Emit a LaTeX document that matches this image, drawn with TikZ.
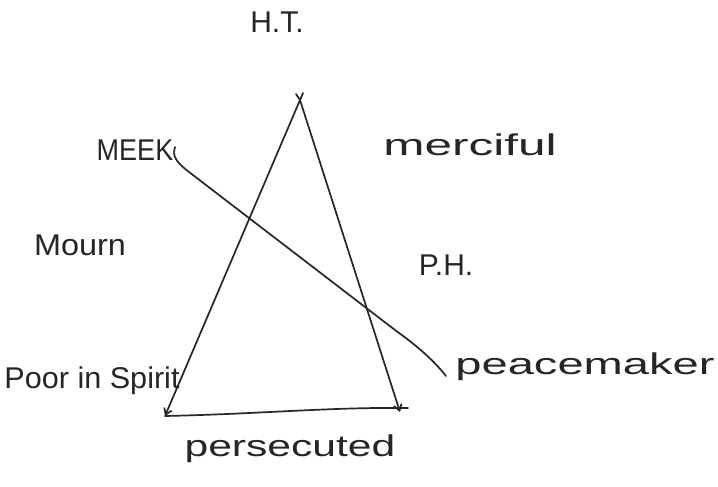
\documentclass[tikz,border=0pt]{standalone}
\usepackage{fontspec}
\setmainfont{Liberation Sans}
\usetikzlibrary{arrows.meta}
\tikzset{
  lbl/.style={inner sep=0pt, font=\fontsize{30}{32}\selectfont, text=black!85, transform shape},
  pen/.style={line width=1.7pt, black!85, line cap=round, line join=round},
  tip/.style={-{Straight Barb[length=6pt,width=8pt]}}
}
\begin{document}
\begin{tikzpicture}[x=1pt,y=-1pt]
\useasboundingbox[fill=white] (0,0) rectangle (718,487);
% labels
\node[lbl] (ht) at (277,22) {H.T.};
\node[lbl, xscale=0.9] (meek) at (135,150) {MEEK};
\node[lbl, xscale=1.65] (merc) at (470,145) {merciful};
\node[lbl, xscale=1.08] (mourn) at (80,245) {Mourn};
\node[lbl] (ph) at (446,265) {P.H.};
\node[lbl, xscale=1.02] (poor) at (92,381) {Poor in Spirit};
\node[lbl, xscale=1.57] (peace) at (585,367) {peacemaker};
\node[lbl, xscale=1.42] (pers) at (290,449) {persecuted};
% triangle
\coordinate (apex) at (300,100);
\coordinate (bl) at (165,416);
\coordinate (br) at (408,408);
\coordinate (brtip) at (400,412);
\draw[pen, tip] (apex) -- (bl);
\draw[pen] (bl) .. controls (260,414) and (330,407) .. (br);
\draw[pen, tip] (apex) -- (brtip);
\draw[pen] (296,94) -- (apex) -- (303,93);
% meek line
\coordinate (m0) at (175,147);
\coordinate (m1) at (446,376);
\draw[pen] (m0) .. controls (172,156) and (176,162) .. (189,172) -- (395,330) .. controls (420,348) and (435,362) .. (m1);
\end{tikzpicture}
\end{document}
